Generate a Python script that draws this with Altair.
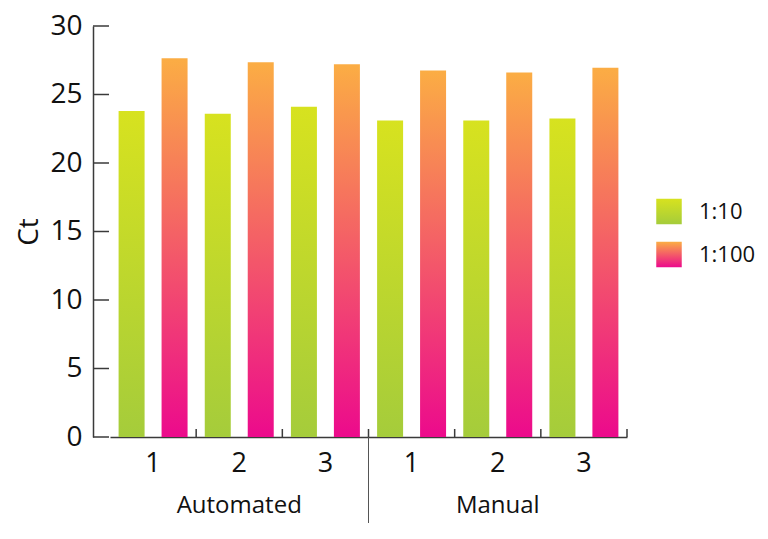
import altair as alt
import pandas as pd

# ---- data ----
groups = ["Automated", "Manual"]
reps = ["1", "2", "3"]
series = ["1:10", "1:100"]
ct_1_10 = [23.8, 23.6, 24.1, 23.1, 23.1, 23.25]
ct_1_100 = [27.65, 27.35, 27.2, 26.75, 26.6, 26.95]
y_ticks = [0, 5, 10, 15, 20, 25, 30]

cats = [f"{g} {r}" for g in groups for r in reps]
rows = []
for c, a, b in zip(cats, ct_1_10, ct_1_100):
    rows.append({"cat": c, "series": series[0], "ct": a})
    rows.append({"cat": c, "series": series[1], "ct": b})
df = pd.DataFrame(rows)
cat_df = pd.DataFrame({"cat": cats})
tick_df = pd.DataFrame({"v": y_ticks})
sep_df = pd.DataFrame({"cat": [cats[2]]})
grp_df = pd.DataFrame({"cat": [cats[1], cats[4]], "label": groups})
leg_df = pd.DataFrame({"series": series})

W, H = 534, 411
FONT = "Open Sans"
AXC = "#3a3a3a"

green = alt.LinearGradient(
    gradient="linear", x1=0, x2=0, y1=0, y2=1,
    stops=[alt.GradientStop(color="#d7e21f", offset=0),
           alt.GradientStop(color="#a5cc3b", offset=1)])
pink = alt.LinearGradient(
    gradient="linear", x1=0, x2=0, y1=0, y2=1,
    stops=[alt.GradientStop(color="#fbad44", offset=0),
           alt.GradientStop(color="#ec0a8c", offset=1)])

xscale = alt.Scale(domain=cats, range=[17, W], paddingInner=0, paddingOuter=0)
xaxis = alt.Axis(title=None, ticks=False, domainColor=AXC, domainWidth=1.5,
                 labelExpr="split(datum.value, ' ')[1]", labelFontSize=27,
                 labelColor="#111", labelPadding=13, labelAngle=0, labelFont=FONT)
yscale = alt.Scale(domain=[0, 30], nice=False, zero=True)
yaxis = alt.Axis(title="Ct", values=y_ticks, ticks=False, domainColor=AXC,
                 domainWidth=1.5, labelFontSize=28, labelColor="#111",
                 labelPadding=11, labelFont=FONT, titleFont=FONT,
                 titleFontSize=28, titleFontWeight="normal", titleColor="#111",
                 titlePadding=6, grid=False)

X = alt.X("cat:N", scale=xscale, axis=xaxis)
Y = alt.Y("ct:Q", scale=yscale, axis=yaxis)
XO = alt.XOffset("series:N", scale=alt.Scale(domain=series, paddingInner=0.395,
                                             paddingOuter=0.2))

base = alt.Chart(df).encode(x=X, xOffset=XO, y=Y)
bars_g = base.transform_filter(alt.datum.series == series[0]).mark_bar(color=green)
bars_p = base.transform_filter(alt.datum.series == series[1]).mark_bar(color=pink)

ytick = alt.Chart(tick_df).mark_rule(color=AXC, strokeWidth=1.5).encode(
    y=alt.Y("v:Q", scale=yscale, axis=yaxis), x=alt.value(0), x2=alt.value(16))
xtick = alt.Chart(cat_df).mark_rule(color=AXC, strokeWidth=1.5).encode(
    x=alt.X("cat:N", scale=xscale, axis=xaxis, bandPosition=1),
    y=alt.value(H - 8), y2=alt.value(H))
sep = alt.Chart(sep_df).mark_rule(color="#555", strokeWidth=1).encode(
    x=alt.X("cat:N", scale=xscale, axis=xaxis, bandPosition=1),
    y=alt.value(H), y2=alt.value(H + 100))
grp = alt.Chart(grp_df).mark_text(fontSize=24, font=FONT, color="#111",
                                  baseline="middle").encode(
    x=alt.X("cat:N", scale=xscale, axis=xaxis), y=alt.value(H + 69),
    text="label:N")

main = alt.layer(bars_g, bars_p, ytick, xtick, sep, grp)

LY = alt.Y("series:N", scale=alt.Scale(type="point", domain=series,
                                        range=[185.5, 228.5], padding=0), axis=None)
leg_base = alt.Chart(leg_df).encode(y=LY)
leg_g = leg_base.transform_filter(alt.datum.series == series[0]).mark_point(
    shape="square", size=650, filled=True, fill=green, opacity=1).encode(
    x=alt.value(576))
leg_p = leg_base.transform_filter(alt.datum.series == series[1]).mark_point(
    shape="square", size=650, filled=True, fill=pink, opacity=1).encode(
    x=alt.value(576))
leg_t = leg_base.mark_text(align="left", baseline="middle", fontSize=22,
                           font=FONT, color="#111").encode(
    x=alt.value(606), text="series:N")
legend = alt.layer(leg_g, leg_p, leg_t)

chart = alt.layer(main, legend).resolve_scale(y="independent").properties(
    width=W, height=H,
    autosize=alt.AutoSizeParams(type="none"),
    padding={"left": 85, "top": 18, "right": 133, "bottom": 86},
).configure(font=FONT, view=alt.ViewConfig(stroke=None))

chart.save("out.html", embed_options={"renderer": "svg", "actions": False})
